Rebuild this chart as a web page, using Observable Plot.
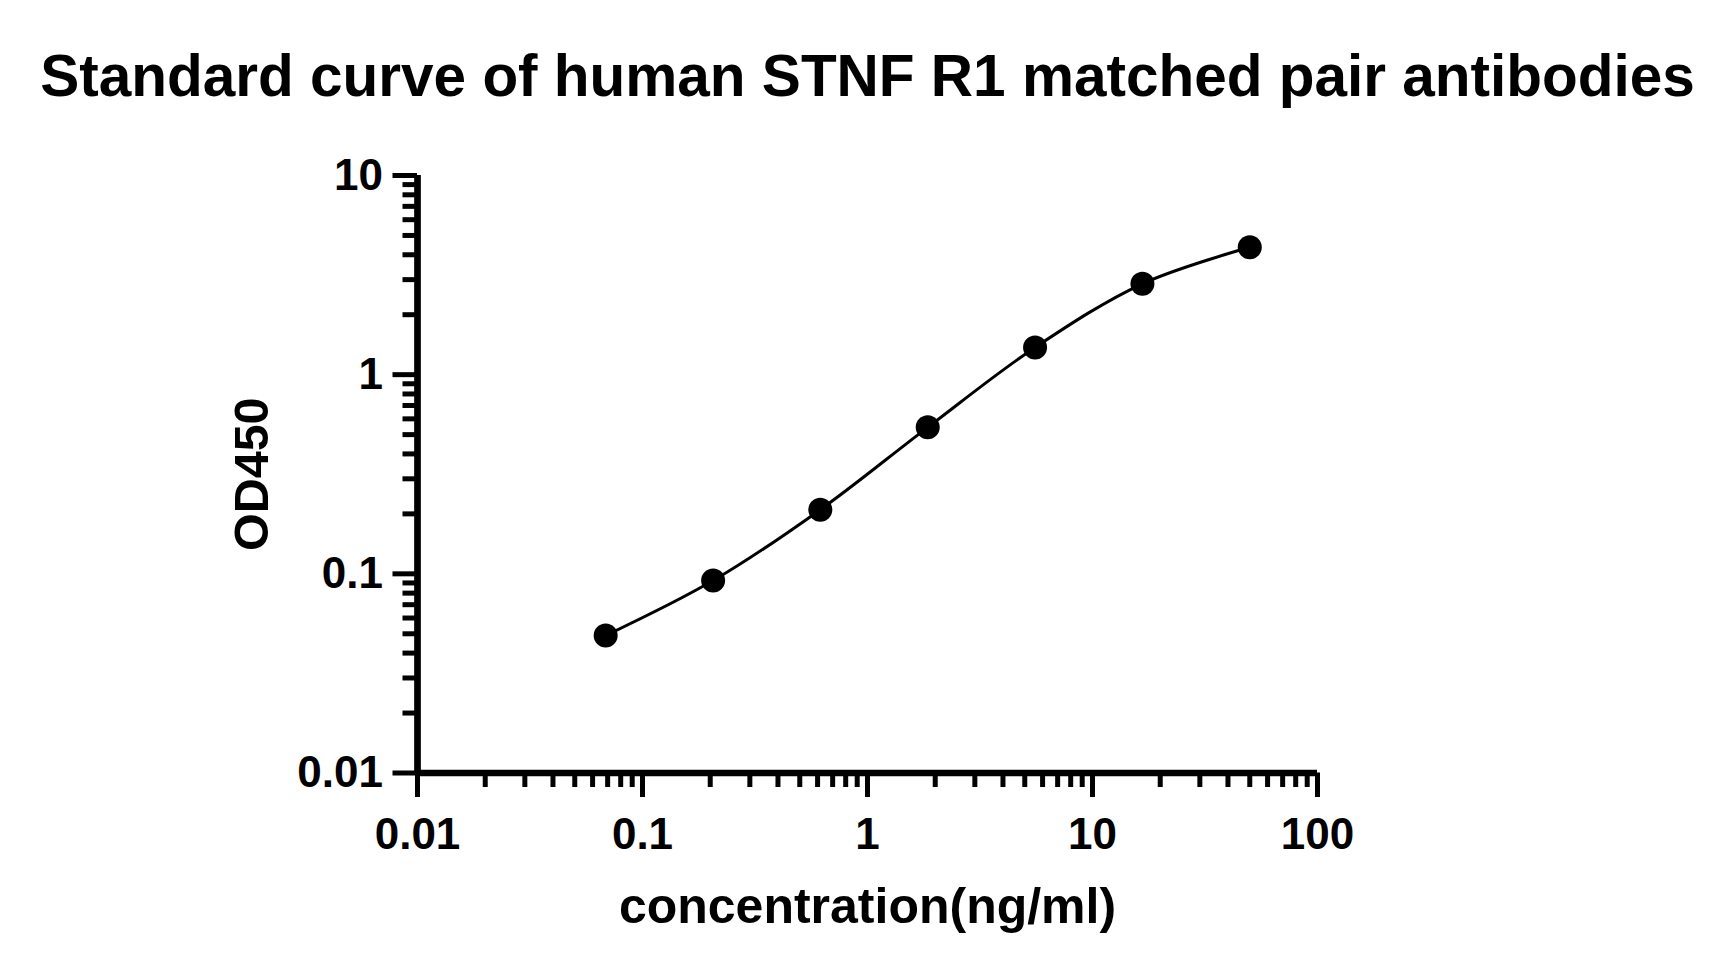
<!DOCTYPE html>
<html><head><meta charset="utf-8">
<script src="https://cdn.jsdelivr.net/npm/d3@7"></script>
<script src="https://cdn.jsdelivr.net/npm/@observablehq/plot@0.6"></script>
<style>
body{margin:0;background:#fff;}
svg{display:block;}
</style>
</head><body><div id="chart"></div>
<script>
const title = "Standard curve of human STNF R1 matched pair antibodies";
const xLabel = "concentration(ng/ml)";
const yLabel = "OD450";
const concentration = [0.0686, 0.206, 0.617, 1.852, 5.556, 16.67, 50];
const od450 = [0.049, 0.0925, 0.210, 0.544, 1.37, 2.86, 4.36];
const xTicks = [0.01, 0.1, 1, 10, 100];
const xTickLabels = ["0.01", "0.1", "1", "10", "100"];
const yTicks = [0.01, 0.1, 1, 10];
const yTickLabels = ["0.01", "0.1", "1", "10"];
const minorMultipliers = [2, 3, 4, 5, 6, 7, 8, 9];

const minorOf = (decades) => decades.slice(0, -1).flatMap(d => minorMultipliers.map(m => +(m * d).toPrecision(3)));
const xMinor = minorOf(xTicks);
const yMinor = minorOf(yTicks);
const points = concentration.map((c, i) => ({c, od: od450[i]}));

const font = "'Liberation Sans', Arial, Helvetica, sans-serif";

const chart = Plot.plot({
  width: 1735,
  height: 978,
  marginLeft: 417,
  marginRight: 418,
  marginTop: 175,
  marginBottom: 205.5,
  style: {fontFamily: font, fontWeight: "bold", color: "#000", background: "#fff"},
  x: {type: "log", domain: [0.01, 100]},
  y: {type: "log", domain: [0.01, 10]},
  marks: [
    Plot.line(points, {x: "c", y: "od", curve: "catmull-rom", stroke: "#000", strokeWidth: 3}),
    Plot.dot(points, {x: "c", y: "od", r: 12, fill: "#000", stroke: "none"}),
    Plot.ruleY([0.01], {strokeWidth: 6.7, stroke: "#000"}),
    Plot.ruleX([0.01], {strokeWidth: 6.7, stroke: "#000"}),
    Plot.axisX({ticks: xMinor, tickSize: 14.5, strokeWidth: 5, text: null, label: null}),
    Plot.axisY({ticks: yMinor, tickSize: 14.5, strokeWidth: 5, text: null, label: null}),
    Plot.axisX({ticks: xTicks, tickSize: 24.5, strokeWidth: 5, tickPadding: 20, fontSize: 44, fontWeight: "bold",
      tickFormat: (d) => xTickLabels[xTicks.indexOf(d)], label: null}),
    Plot.axisY({ticks: yTicks, tickSize: 24.5, strokeWidth: 5, tickPadding: 10, fontSize: 44, fontWeight: "bold",
      tickFormat: (d) => yTickLabels[yTicks.indexOf(d)], label: null}),
    Plot.text([xLabel], {text: d => d, frameAnchor: "bottom", lineAnchor: "bottom", dy: 150, fontSize: 50, fontWeight: "bold"}),
    Plot.text([yLabel], {text: d => d, frameAnchor: "left", textAnchor: "middle", lineAnchor: "middle", rotate: -90, dx: -165, dy: 0, fontSize: 48.5, fontWeight: "bold"}),
    Plot.text([title], {text: d => d, frameAnchor: "top", lineAnchor: "bottom", dy: -80, fontSize: 58.5, fontWeight: "bold"})
  ]
});
document.getElementById("chart").appendChild(chart);
</script>
</body></html>
